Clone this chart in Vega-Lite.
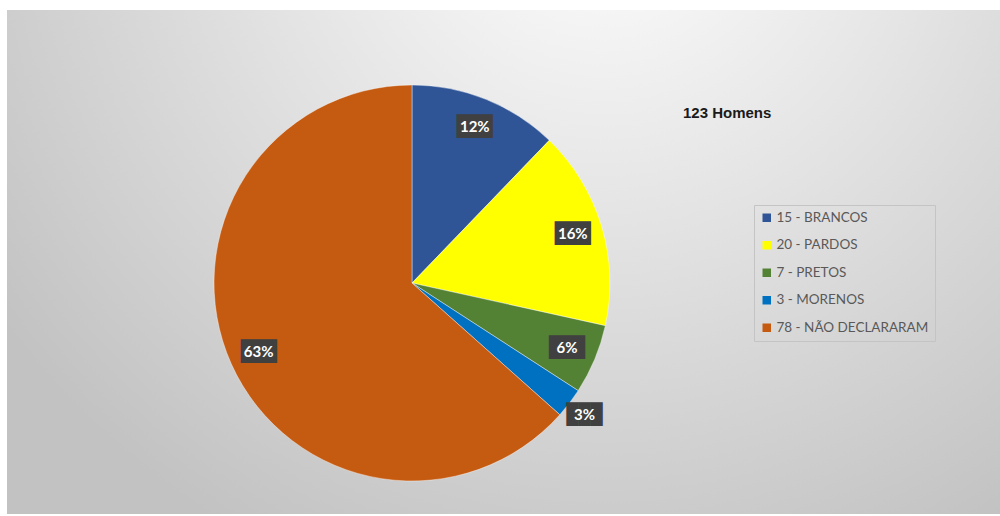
{
  "$schema": "https://vega.github.io/schema/vega-lite/v6.json",
  "width": 1000,
  "height": 516,
  "autosize": {"type": "fit", "contains": "padding"},
  "padding": {"left": 7, "top": 10, "right": 0, "bottom": 2},
  "background": "white",
  "config": {"view": {"stroke": null}},
  "title": {
    "text": "123 Homens",
    "anchor": "start",
    "frame": "group",
    "orient": "top",
    "dx": 676,
    "offset": -123,
    "baseline": "alphabetic",
    "font": "Liberation Sans",
    "fontSize": 15,
    "fontWeight": "bold",
    "color": "#1a1a1a"
  },
  "data": {
    "values": [
      {"categoria": "15 - BRANCOS", "valor": 15, "rotulo": "12%", "ordem": 1},
      {"categoria": "20 - PARDOS", "valor": 20, "rotulo": "16%", "ordem": 2},
      {"categoria": "7 - PRETOS", "valor": 7, "rotulo": "6%", "ordem": 3},
      {"categoria": "3 - MORENOS", "valor": 3, "rotulo": "3%", "ordem": 4},
      {"categoria": "78 - NÃO DECLARARAM", "valor": 78, "rotulo": "63%", "ordem": 5}
    ]
  },
  "layer": [
    {
      "data": {"values": [{}]},
      "mark": {
        "type": "rect",
        "fill": {
          "gradient": "radial",
          "x1": 0.6, "y1": 0.12, "r1": 0,
          "x2": 0.6, "y2": 0.12, "r2": 0.75,
          "stops": [
            {"offset": 0, "color": "#ffffff"},
            {"offset": 0.45, "color": "#e4e4e4"},
            {"offset": 1, "color": "#c2c2c2"}
          ]
        }
      },
      "encoding": {
        "x": {"value": 0},
        "x2": {"value": "width"},
        "y": {"value": 0},
        "y2": {"value": "height"}
      }
    },
    {
      "mark": {"type": "arc", "radius": 198, "stroke": "#ffffff", "strokeWidth": 0.4},
      "encoding": {
        "x": {"value": 405},
        "y": {"value": 273},
        "theta": {"field": "valor", "type": "quantitative", "stack": true},
        "order": {"field": "ordem", "type": "quantitative"},
        "color": {
          "field": "categoria",
          "type": "nominal",
          "sort": ["15 - BRANCOS", "20 - PARDOS", "7 - PRETOS", "3 - MORENOS", "78 - NÃO DECLARARAM"],
          "scale": {
            "domain": ["15 - BRANCOS", "20 - PARDOS", "7 - PRETOS", "3 - MORENOS", "78 - NÃO DECLARARAM"],
            "range": ["#2F5597", "#FFFF00", "#548235", "#0070C0", "#C55A11"]
          },
          "legend": {
            "title": null,
            "orient": "none",
            "legendX": 747,
            "legendY": 195,
            "padding": 6,
            "strokeColor": "#c4c4c4",
            "symbolType": "square",
            "symbolSize": 72,
            "symbolStrokeWidth": 0,
            "labelFont": "Lato",
            "labelFontSize": 13.5,
            "labelColor": "#595959",
            "labelOffset": 3,
            "labelLimit": 300,
            "rowPadding": 12.5
          }
        }
      }
    },
    {
      "mark": {"type": "text", "radius": 168, "font": "DejaVu Sans Mono", "fontSize": 20, "align": "center", "baseline": "middle", "color": "#404040"},
      "encoding": {
        "x": {"value": 405},
        "y": {"value": 273},
        "theta": {"field": "valor", "type": "quantitative", "stack": true},
        "order": {"field": "ordem", "type": "quantitative"},
        "text": {"condition": {"test": "datum.ordem === 4", "value": ""}, "value": "███"}
      }
    },
    {
      "mark": {"type": "text", "radius": 217, "font": "DejaVu Sans Mono", "fontSize": 20, "align": "center", "baseline": "middle", "color": "#404040"},
      "encoding": {
        "x": {"value": 405},
        "y": {"value": 273},
        "theta": {"field": "valor", "type": "quantitative", "stack": true},
        "order": {"field": "ordem", "type": "quantitative"},
        "text": {"condition": {"test": "datum.ordem === 4", "value": "███"}, "value": ""}
      }
    },
    {
      "mark": {"type": "text", "radius": 168, "font": "Lato", "fontSize": 15, "fontWeight": "bold", "align": "center", "baseline": "middle", "color": "#ffffff"},
      "encoding": {
        "x": {"value": 405},
        "y": {"value": 273},
        "theta": {"field": "valor", "type": "quantitative", "stack": true},
        "order": {"field": "ordem", "type": "quantitative"},
        "text": {"condition": {"test": "datum.ordem === 4", "value": ""}, "field": "rotulo", "type": "nominal"}
      }
    },
    {
      "mark": {"type": "text", "radius": 217, "font": "Lato", "fontSize": 15, "fontWeight": "bold", "align": "center", "baseline": "middle", "color": "#ffffff"},
      "encoding": {
        "x": {"value": 405},
        "y": {"value": 273},
        "theta": {"field": "valor", "type": "quantitative", "stack": true},
        "order": {"field": "ordem", "type": "quantitative"},
        "text": {"condition": {"test": "datum.ordem === 4", "field": "rotulo", "type": "nominal"}, "value": ""}
      }
    }
  ]
}
